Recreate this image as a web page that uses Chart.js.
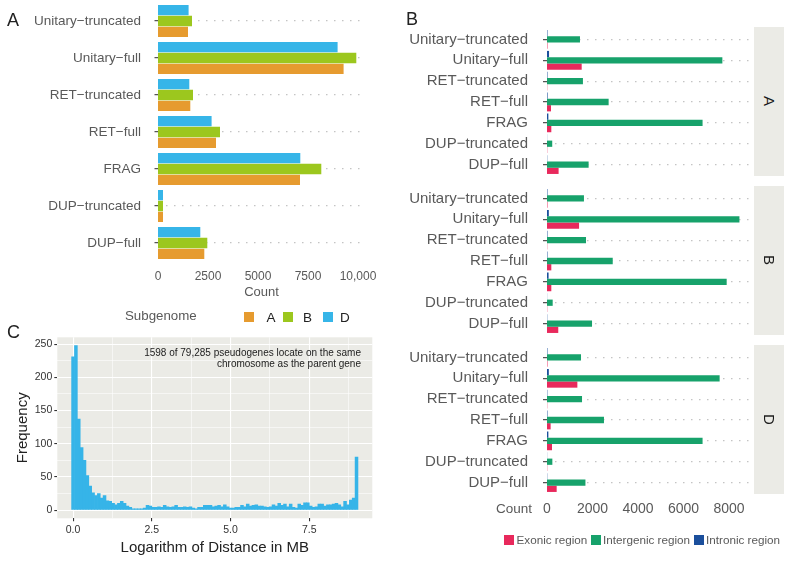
<!DOCTYPE html>
<html>
<head>
<meta charset="utf-8">
<script src="https://cdn.jsdelivr.net/npm/chart.js@4.4.1/dist/chart.umd.min.js"></script>
<style>
body{margin:0;background:#fff;}
#wrap{position:relative;width:792px;height:562px;overflow:hidden;font-family:"Liberation Sans",Arial,sans-serif;}
canvas{position:absolute;}
.t{position:absolute;white-space:nowrap;line-height:1;}
.sq{position:absolute;width:10px;height:10px;}
.strip{position:absolute;left:754px;width:30px;height:149px;background:#ebebe6;display:flex;align-items:center;justify-content:center;}
.strip span{writing-mode:vertical-rl;font-size:15px;color:#1a1a1a;}
</style>
</head>
<body>
<div id="wrap">
  <canvas id="chartA" width="390" height="300" style="left:0;top:0"></canvas>
  <canvas id="facetA" width="402" height="146" style="left:390px;top:29px"></canvas>
  <canvas id="facetB" width="402" height="146" style="left:390px;top:188px"></canvas>
  <canvas id="facetD" width="402" height="171" style="left:390px;top:347px"></canvas>
  <canvas id="chartC" width="390" height="242" style="left:0;top:320px"></canvas>

  <div class="t" style="left:7px;top:11px;font-size:18px;color:#222">A</div>
  <div class="t" style="left:406px;top:10px;font-size:18px;color:#222">B</div>
  <div class="t" style="left:7px;top:323px;font-size:18px;color:#222">C</div>

  <div id="legA"></div>
  <div id="legB"></div>
  <div class="t" style="left:496px;top:502px;font-size:13.5px;color:#595959">Count</div>

  <div class="strip" style="top:27px"><span>A</span></div>
  <div class="strip" style="top:186px"><span>B</span></div>
  <div class="strip" style="top:345px"><span>D</span></div>

  <div class="t" style="left:0;width:361px;text-align:right;top:347px;font-size:10px;line-height:11px;color:#222">1598 of 79,285 pseudogenes locate on the same<br>chromosome as the parent gene</div>
</div>
<script>
// ---- data ----
const categories = ['Unitary−truncated','Unitary−full','RET−truncated','RET−full','FRAG','DUP−truncated','DUP−full'];

// panel A: counts per subgenome
const subA = [1500, 9280, 1615, 2900, 7100, 250, 2315];
const subB = [1700, 9915, 1750, 3100, 8165, 250, 2465];
const subD = [1530, 8980, 1565, 2680, 7115, 250, 2115];
const ticksA = [0, 2500, 5000, 7500, 10000];
const tickLabelsA = ['0', '2500', '5000', '7500', '10,000'];

// panel B: region counts per subgenome facet
const exonA   = [20, 1525, 10, 175, 190, 10, 510];
const interA  = [1450, 7710, 1580, 2710, 6840, 230, 1830];
const intronA = [20, 90, 20, 25, 60, 5, 10];
const exonB   = [20, 1410, 10, 190, 190, 10, 495];
const interB  = [1625, 8460, 1715, 2890, 7900, 250, 1980];
const intronB = [20, 80, 20, 20, 70, 5, 10];
const exonD   = [20, 1335, 10, 160, 220, 10, 425];
const interD  = [1495, 7590, 1540, 2505, 6840, 235, 1690];
const intronD = [20, 80, 15, 20, 60, 5, 10];
const ticksB = [0, 2000, 4000, 6000, 8000];

// panel C: histogram of log distance (100 bins, centres 0 .. 9.0)
const histCounts = [231, 248, 137, 94, 75, 52, 36, 26, 22, 25,
  18, 22, 14, 13, 10, 8, 10, 13, 10, 6,
  4, 2, 2, 2, 2, 3, 7, 6, 4, 4,
  5, 4, 7, 5, 4, 5, 7, 4, 4, 5,
  4, 5, 3, 2, 4, 4, 7, 7, 7, 5,
  6, 7, 5, 8, 5, 3, 3, 4, 4, 7,
  5, 9, 6, 7, 8, 6, 6, 5, 4, 5,
  8, 6, 10, 7, 9, 5, 9, 4, 3, 9,
  7, 11, 11, 6, 4, 5, 9, 9, 6, 8,
  8, 9, 10, 8, 5, 13, 8, 15, 18, 80];
const histStart = 0;
const histBinWidth = 0.0909;
const xMajorC = [0, 2.5, 5, 7.5];
const xMinorC = [1.25, 3.75, 6.25, 8.75];
const yMajorC = [0, 50, 100, 150, 200, 250];
const yMinorC = [25, 75, 125, 175, 225];

const colA = '#e69b2f', colB = '#9cc71e', colD = '#36b5e8';
const colExon = '#e8295c', colInter = '#17a26b', colIntron = '#1b4f9c';
const grayText = '#595959';

Chart.defaults.font.family = "'Liberation Sans', Arial, sans-serif";
Chart.defaults.animation = false;
Chart.defaults.plugins.legend.display = false;
Chart.defaults.plugins.tooltip.enabled = false;

// fixed-size axes with no extra label padding
const fixY = w => s => { s.width = w; s.paddingTop = 0; s.paddingBottom = 0; };
const fixX = h => s => { s.height = h; };

// legends (html)
function legend(el, items, opts) {
  let html = '';
  if (opts.title) html += `<div class="t" style="left:${opts.titleX}px;top:${opts.top - 3}px;font-size:13.3px;color:${grayText}">${opts.title}</div>`;
  items.forEach(it => {
    html += `<div class="sq" style="left:${it.x}px;top:${opts.top}px;background:${it.color}"></div>`;
    html += `<div class="t" style="left:${it.tx}px;top:${opts.top - 1.5}px;font-size:${opts.size}px;color:${opts.color}">${it.label}</div>`;
  });
  el.innerHTML = html;
}
legend(document.getElementById('legA'), [
  {label: 'A', color: colA, x: 244, tx: 266.5},
  {label: 'B', color: colB, x: 283, tx: 303},
  {label: 'D', color: colD, x: 323, tx: 340}
], {title: 'Subgenome', titleX: 125, top: 312, size: 13.5, color: '#222'});
legend(document.getElementById('legB'), [
  {label: 'Exonic region', color: colExon, x: 504, tx: 516.5},
  {label: 'Intergenic region', color: colInter, x: 591, tx: 603},
  {label: 'Intronic region', color: colIntron, x: 694, tx: 706}
], {top: 535, size: 11.7, color: grayText});

// ---- panel A ----
new Chart(document.getElementById('chartA'), {
  type: 'bar',
  data: {
    labels: categories,
    datasets: [
      {label: 'D', data: subD, backgroundColor: colD},
      {label: 'B', data: subB, backgroundColor: colB},
      {label: 'A', data: subA, backgroundColor: colA}
    ]
  },
  options: {
    indexAxis: 'y',
    responsive: false,
    datasets: {bar: {categoryPercentage: 0.875, barPercentage: 0.95}},
    layout: {padding: {top: 2.5, right: 25, bottom: 0, left: 0}},
    scales: {
      y: {
        afterFit: fixY(158),
        border: {display: false, dash: [1.5, 6.5]},
        grid: {offset: false, color: '#c4c4c4', lineWidth: 1.2, tickLength: 14, tickColor: '#555', tickWidth: 1.4, tickBorderDash: [0, 10.5, 3.5, 100]},
        ticks: {autoSkip: false, color: grayText, font: {size: 13.5}, padding: 3}
      },
      x: {
        min: 0, max: 10350,
        afterBuildTicks: s => { s.ticks = ticksA.map(v => ({value: v})); },
        afterFit: fixX(38.5),
        border: {display: false},
        grid: {display: false, drawTicks: false},
        ticks: {maxRotation: 0, color: grayText, font: {size: 12}, padding: 8, callback: (v, i) => tickLabelsA[i]},
        title: {display: true, text: 'Count', color: grayText, font: {size: 13}, padding: {top: 0.5, bottom: 0}}
      }
    }
  }
});

// ---- panel B facets ----
const facets = [
  {id: 'facetA', exon: exonA, inter: interA, intron: intronA, axis: false},
  {id: 'facetB', exon: exonB, inter: interB, intron: intronB, axis: false},
  {id: 'facetD', exon: exonD, inter: interD, intron: intronD, axis: true}
];
facets.forEach(f => {
  new Chart(document.getElementById(f.id), {
    type: 'bar',
    data: {
      labels: categories,
      datasets: [
        {label: 'Intronic region', data: f.intron, backgroundColor: colIntron},
        {label: 'Intergenic region', data: f.inter, backgroundColor: colInter},
        {label: 'Exonic region', data: f.exon, backgroundColor: colExon}
      ]
    },
    options: {
      indexAxis: 'y',
      responsive: false,
      datasets: {bar: {categoryPercentage: 0.9, barPercentage: 1}},
      layout: {padding: {top: 0, right: 42, bottom: 0, left: 0}},
      scales: {
        y: {
          afterFit: fixY(157),
          border: {display: false, dash: [1.5, 6.5]},
          grid: {offset: false, color: '#c4c4c4', lineWidth: 1.2, tickLength: 13, tickColor: '#555', tickWidth: 1.4, tickBorderDash: [0, 9, 4, 100]},
          ticks: {autoSkip: false, color: grayText, font: {size: 15}, padding: 6}
        },
        x: {
          display: f.axis,
          min: 0, max: 8925,
          afterBuildTicks: s => { s.ticks = ticksB.map(v => ({value: v})); },
          afterFit: fixX(f.axis ? 25 : 0),
          border: {display: false},
          grid: {display: false, drawTicks: false},
          ticks: {maxRotation: 0, color: grayText, font: {size: 14}, padding: 7.6, callback: v => String(v)}
        }
      }
    }
  });
});

// ---- panel C ----
const plotBg = {
  id: 'plotBg',
  beforeDraw(chart) {
    const {ctx, chartArea: a} = chart;
    ctx.save();
    ctx.fillStyle = '#ebebe6';
    ctx.fillRect(a.left, a.top, a.right - a.left, a.bottom - a.top);
    ctx.restore();
  }
};
const isMajor = (arr, c) => c.tick && arr.includes(c.tick.value);

new Chart(document.getElementById('chartC'), {
  type: 'bar',
  data: {
    datasets: [{
      data: histCounts.map((c, i) => ({x: histStart + i * histBinWidth, y: c})),
      backgroundColor: '#36b4e8',
      categoryPercentage: 1,
      barPercentage: 1,
      borderWidth: 0
    }]
  },
  options: {
    responsive: false,
    layout: {padding: {top: 17.3, right: 17.7, bottom: 5, left: 0}},
    scales: {
      x: {
        type: 'linear',
        offset: false,
        min: -0.5, max: 9.5,
        afterBuildTicks: s => { s.ticks = [...xMajorC, ...xMinorC].sort((a, b) => a - b).map(v => ({value: v})); },
        afterFit: fixX(38.7),
        border: {display: false},
        grid: {
          offset: false,
          color: '#ffffff',
          lineWidth: c => isMajor(xMajorC, c) ? 1.1 : 0.55,
          tickLength: 3, tickWidth: 1.1,
          tickColor: c => isMajor(xMajorC, c) ? '#333' : 'rgba(0,0,0,0)'
        },
        ticks: {autoSkip: false, maxRotation: 0, color: '#333', font: {size: 10.5}, padding: 2.4,
          callback: v => xMajorC.includes(v) ? v.toFixed(1) : ''},
        title: {display: true, text: 'Logarithm of Distance in MB', color: '#222', font: {size: 15}, padding: {top: 2.7, bottom: 0}}
      },
      y: {
        min: -12.4, max: 260.4,
        afterFit: fixY(57.3),
        afterBuildTicks: s => { s.ticks = [...yMajorC, ...yMinorC].sort((a, b) => a - b).map(v => ({value: v})); },
        border: {display: false},
        grid: {
          color: '#ffffff',
          lineWidth: c => isMajor(yMajorC, c) ? 1.1 : 0.55,
          tickLength: 3, tickWidth: 1.1,
          tickColor: c => isMajor(yMajorC, c) ? '#333' : 'rgba(0,0,0,0)'
        },
        ticks: {autoSkip: false, color: '#333', font: {size: 10.5}, padding: 2,
          callback: v => yMajorC.includes(v) ? String(v) : ''},
        title: {display: true, text: 'Frequency', color: '#222', font: {size: 15}, padding: {top: 13.7, bottom: 0}}
      }
    }
  },
  plugins: [plotBg]
});
</script>
</body>
</html>
